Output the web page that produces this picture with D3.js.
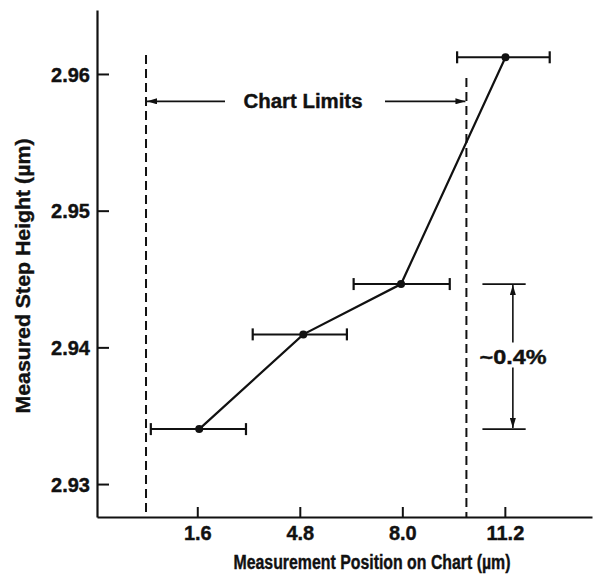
<!DOCTYPE html>
<html><head><meta charset="utf-8">
<script src="https://cdn.jsdelivr.net/npm/d3@7"></script>
<style>body{margin:0;background:#fff}svg{display:block}text{font-family:"Liberation Sans",Arial,Helvetica,sans-serif;font-weight:bold;fill:#111}
.title{font-family:"Liberation Sans Narrow","Liberation Sans",Arial,sans-serif}</style>
</head><body>
<script>
// Data
const positions = [1.66, 4.91, 7.96, 11.22];
const heights = [2.93402, 2.94095, 2.94463, 2.96122];
const errLow = [0.15, 3.33, 6.48, 9.71];
const errHigh = [3.12, 6.27, 9.48, 12.6];
const xTicks = [1.6, 4.8, 8.0, 11.2];
const xTickLabels = ["1.6", "4.8", "8.0", "11.2"];
const yTicks = [2.93, 2.94, 2.95, 2.96];
const yTickLabels = ["2.93", "2.94", "2.95", "2.96"];
const chartLimits = [0.0, 10.0];
const limitArrowY = 2.958;
const pctLabel = "~0.4%";

const W = 595, H = 580;
const svg = d3.select("body").append("svg").attr("width", W).attr("height", H);
const x = d3.scaleLinear().domain([-1.53, 13.92]).range([97, 592]);
const y = d3.scaleLinear().domain([2.92759, 2.96468]).range([517, 10]);
const ink = "#111";

svg.append("defs").append("marker").attr("id", "ah").attr("viewBox", "0 0 10 6")
  .attr("refX", 10).attr("refY", 3).attr("markerWidth", 10).attr("markerHeight", 6)
  .attr("markerUnits", "userSpaceOnUse").attr("orient", "auto")
  .append("path").attr("d", "M0,0 L10,3 L0,6 Z").attr("fill", ink);

// Axes
const yAxis = d3.axisLeft(y).tickValues(yTicks).tickFormat((d, i) => yTickLabels[i]).tickSizeInner(-12).tickSizeOuter(0).tickPadding(7);
const gy = svg.append("g").attr("transform", `translate(${x(-1.53)},0)`).call(yAxis);
const xAxis = d3.axisBottom(x).tickValues(xTicks).tickFormat((d, i) => xTickLabels[i]).tickSizeInner(-10).tickSizeOuter(0).tickPadding(9);
const gx = svg.append("g").attr("transform", `translate(0,${y(2.92759)})`).call(xAxis);
[gx, gy].forEach(g => {
  g.select(".domain").attr("stroke", ink).attr("stroke-width", 2.2);
  g.selectAll(".tick line").attr("stroke", ink).attr("stroke-width", 2);
  g.selectAll(".tick text").attr("fill", ink).style("font-size", "20px").attr("font-weight", "bold")
    .attr("stroke", ink).attr("stroke-width", 0.4);
});
gy.selectAll(".tick text").attr("dy", "0.36em");
gx.selectAll(".tick text").attr("dy", "0.71em");

// Chart limit dashed lines
const limTop = [55, 78];
chartLimits.forEach((v, i) => {
  svg.append("line").attr("x1", x(v)).attr("x2", x(v)).attr("y1", limTop[i]).attr("y2", y(2.92759))
    .attr("stroke", ink).attr("stroke-width", 2).attr("stroke-dasharray", "9,5");
});
// Chart Limits arrows and text
const ay = y(limitArrowY);
svg.append("line").attr("x1", 225).attr("x2", x(chartLimits[0]) + 1).attr("y1", ay).attr("y2", ay)
  .attr("stroke", ink).attr("stroke-width", 1.8).attr("marker-end", "url(#ah)");
svg.append("line").attr("x1", 385).attr("x2", x(chartLimits[1]) - 1).attr("y1", ay).attr("y2", ay)
  .attr("stroke", ink).attr("stroke-width", 1.8).attr("marker-end", "url(#ah)");
svg.append("text").attr("x", 303).attr("y", ay + 7).attr("text-anchor", "middle")
  .style("font-size", "20px").attr("stroke", ink).attr("stroke-width", 0.4)
  .attr("textLength", 119).attr("lengthAdjust", "spacingAndGlyphs").text("Chart Limits");

// Error bars
const capH = 6;
positions.forEach((p, i) => {
  const yy = y(heights[i]);
  svg.append("line").attr("x1", x(errLow[i])).attr("x2", x(errHigh[i])).attr("y1", yy).attr("y2", yy)
    .attr("stroke", ink).attr("stroke-width", 2);
  [errLow[i], errHigh[i]].forEach(e => {
    svg.append("line").attr("x1", x(e)).attr("x2", x(e)).attr("y1", yy - capH).attr("y2", yy + capH)
      .attr("stroke", ink).attr("stroke-width", 2.2);
  });
});
// Line
const line = d3.line().x((d, i) => x(positions[i])).y(d => y(d));
svg.append("path").datum(heights).attr("d", line).attr("fill", "none").attr("stroke", ink).attr("stroke-width", 2.2);
svg.selectAll("circle.pt").data(heights).enter().append("circle")
  .attr("cx", (d, i) => x(positions[i])).attr("cy", d => y(d)).attr("r", 4).attr("fill", ink);

// ~0.4% bracket
const bx1 = x(10.5), bx2 = x(11.85), bax = x(11.45);
const yHi = y(heights[2]), yLo = y(heights[0]);
[yHi, yLo].forEach(v => svg.append("line").attr("x1", bx1).attr("x2", bx2).attr("y1", v).attr("y2", v)
  .attr("stroke", ink).attr("stroke-width", 1.8));
const ym = (yHi + yLo) / 2;
svg.append("line").attr("x1", bax).attr("x2", bax).attr("y1", ym - 14).attr("y2", yHi + 1)
  .attr("stroke", ink).attr("stroke-width", 1.6).attr("marker-end", "url(#ah)");
svg.append("line").attr("x1", bax).attr("x2", bax).attr("y1", ym + 11).attr("y2", yLo - 1)
  .attr("stroke", ink).attr("stroke-width", 1.6).attr("marker-end", "url(#ah)");
svg.append("text").attr("x", 513).attr("y", ym + 7).attr("text-anchor", "middle")
  .style("font-size", "20px").attr("stroke", ink).attr("stroke-width", 0.4)
  .attr("textLength", 67).attr("lengthAdjust", "spacingAndGlyphs").text(pctLabel);

// Axis titles
svg.append("text").attr("class", "title").attr("x", 372).attr("y", 569).attr("text-anchor", "middle")
  .style("font-size", "20px").attr("stroke", ink).attr("stroke-width", 0.4)
  .attr("textLength", 277).attr("lengthAdjust", "spacingAndGlyphs")
  .text("Measurement Position on Chart (µm)");
svg.append("text").attr("class", "title").attr("transform", "translate(30,276) rotate(-90)").attr("text-anchor", "middle")
  .style("font-size", "21px").attr("stroke", ink).attr("stroke-width", 0.4)
  .attr("textLength", 275).attr("lengthAdjust", "spacingAndGlyphs")
  .text("Measured Step Height (µm)");
</script>
</body></html>
